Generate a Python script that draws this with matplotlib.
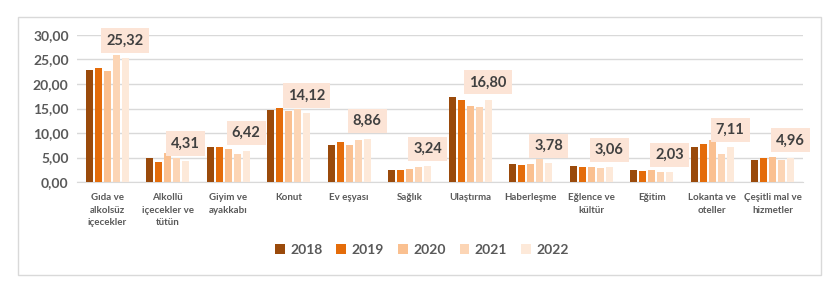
import matplotlib.pyplot as plt
import matplotlib.patches as mpatches
import numpy as np

plt.rcParams['font.family'] = ['Lato', 'DejaVu Sans']

categories = ['Gıda ve\nalkolsüz\niçecekler', 'Alkollü\niçecekler ve\ntütün', 'Giyim ve\nayakkabı',
              'Konut', 'Ev eşyası', 'Sağlık', 'Ulaştırma', 'Haberleşme', 'Eğlence ve\nkültür',
              'Eğitim', 'Lokanta ve\noteller', 'Çeşitli mal ve\nhizmetler']
years = ['2018', '2019', '2020', '2021', '2022']

v2018 = [22.90, 4.96, 7.20, 14.75, 7.60, 2.50, 17.40, 3.70, 3.30, 2.50, 7.20, 4.55]
v2019 = [23.30, 4.14, 7.20, 15.20, 8.20, 2.50, 16.80, 3.50, 3.10, 2.30, 7.80, 4.96]
v2020 = [22.70, 6.00, 6.80, 14.40, 7.60, 2.70, 15.60, 3.60, 3.10, 2.50, 8.60, 5.20]
v2021 = [26.00, 4.80, 5.80, 14.90, 8.60, 3.10, 15.40, 4.60, 2.90, 2.10, 5.80, 4.55]
v2022 = [25.32, 4.31, 6.42, 14.12, 8.86, 3.24, 16.80, 3.78, 3.06, 2.03, 7.11, 4.96]

colors = ['#9A4A0B', '#E46C0A', '#FAC090', '#FCD5B5', '#FDE9D9']
label_bg = '#FCE4D6'
text_grey = '#595959'

fig = plt.figure(figsize=(8.28, 2.84), dpi=100)
ax = fig.add_axes([77/828, 1 - 182/284, (803-77)/828, (182-35)/284])

# outer chart border
fig.patches.append(mpatches.Rectangle((18/828, 1 - 275/284), (821-18)/828, (275-17)/284,
                                      transform=fig.transFigure, fill=False,
                                      edgecolor='#D9D9D9', lw=1))

x = np.arange(len(categories))
slot = 0.148
width = 0.118
series = [v2018, v2019, v2020, v2021, v2022]
for i, (vals, c, yr) in enumerate(zip(series, colors, years)):
    ax.bar(x + (i - 2) * slot, vals, width, color=c, label=yr, zorder=3)

# data labels for 2022
for xi, v in zip(x, v2022):
    ax.annotate(f'{v:.2f}'.replace('.', ','), (xi + 2 * slot, v), xytext=(0, 12.5),
                textcoords='offset points', ha='center', va='center',
                fontsize=10.5, fontweight='bold', color='#404040', zorder=5,
                bbox=dict(boxstyle='square,pad=0.35', fc=label_bg, ec='none'))

ax.set_xlim(-0.5, len(categories) - 0.5)
ax.set_ylim(0, 30)
ax.set_yticks(np.arange(0, 31, 5))
ax.set_yticklabels([f'{t:.2f}'.replace('.', ',') for t in np.arange(0, 31, 5)],
                   fontsize=10, fontweight='bold', color=text_grey)
ax.set_xticks(x)
ax.set_xticklabels(categories, fontsize=7, fontweight='bold', color=text_grey,
                   linespacing=1.5, va='top')
ax.tick_params(axis='both', length=0)
ax.tick_params(axis='x', pad=8)
ax.tick_params(axis='y', pad=6)
ax.grid(axis='y', color='#D9D9D9', lw=1, zorder=0)
for s in ['top', 'right', 'left']:
    ax.spines[s].set_visible(False)
ax.spines['bottom'].set_color('#D9D9D9')

fig.legend(loc='center', bbox_to_anchor=(422/828, 1 - 250/284), ncol=5, frameon=False,
           prop={'size': 10, 'weight': 'bold'}, labelcolor=text_grey,
           handlelength=0.7, handleheight=0.7, handletextpad=0.4, columnspacing=1.0)

fig.savefig('out.png', dpi=100)
